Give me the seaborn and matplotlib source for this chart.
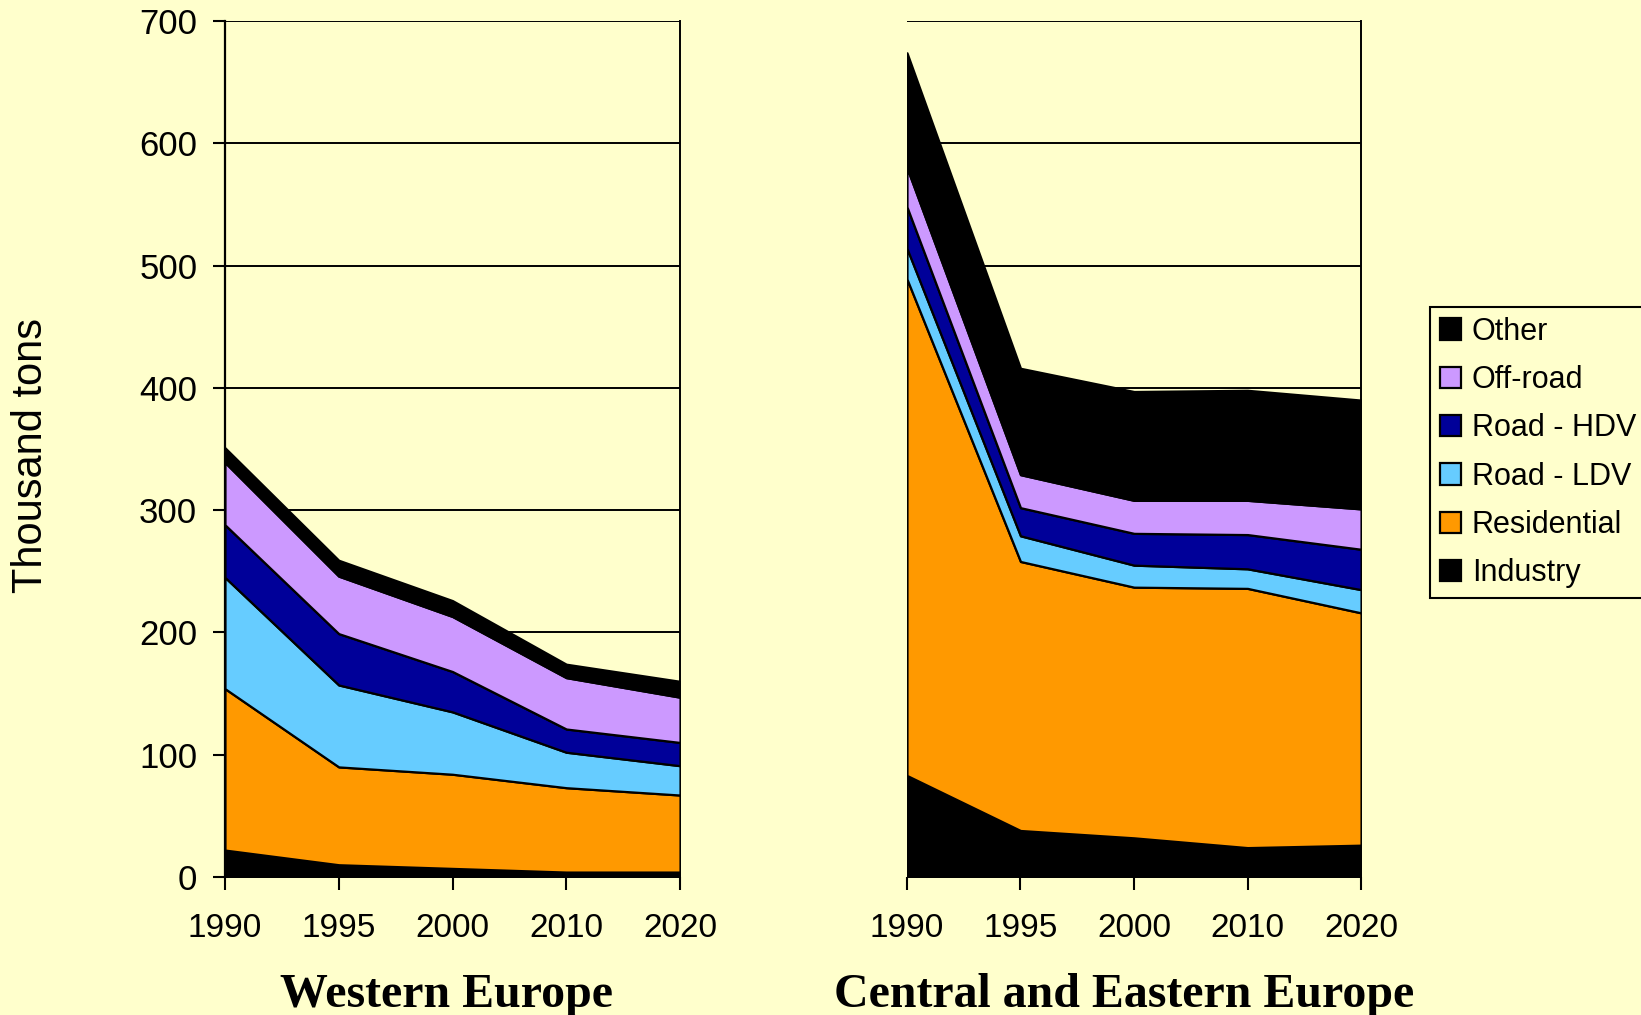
import matplotlib
matplotlib.use("Agg")
import matplotlib.pyplot as plt
import seaborn as sns
import numpy as np

# Emission sources, stacked bottom to top
years = ["1990", "1995", "2000", "2010", "2020"]
sources = ["Industry", "Residential", "Road - LDV", "Road - HDV", "Off-road", "Other"]
colors = ["#000000", "#FF9900", "#66CCFF", "#000099", "#CC99FF", "#000000"]

# Western Europe, thousand tons per source
we_industry = [22, 10, 7, 4, 4]
we_residential = [132, 80, 77, 69, 63]
we_road_ldv = [91, 67, 51, 29, 24]
we_road_hdv = [43, 42, 33, 19, 19]
we_offroad = [51, 47, 45, 42, 37]
we_other = [12, 13, 13, 11, 13]

# Central and Eastern Europe, thousand tons per source
cee_industry = [83, 38, 32, 24, 26]
cee_residential = [406, 220, 205, 212, 190]
cee_road_ldv = [25, 21, 18, 16, 19]
cee_road_hdv = [34, 23, 26, 28, 33]
cee_offroad = [32, 27, 27, 28, 33]
cee_other = [94, 87, 89, 90, 89]

y_ticks = [0, 100, 200, 300, 400, 500, 600, 700]

sns.set_theme(style="white")
plt.rcParams["font.family"] = ["Liberation Sans", "DejaVu Sans"]
plt.rcParams["text.color"] = "black"
plt.rcParams["xtick.color"] = "black"
plt.rcParams["ytick.color"] = "black"
plt.rcParams["axes.labelcolor"] = "black"

bg = "#FFFFCC"
fig = plt.figure(figsize=(16.41, 10.15), dpi=100, facecolor=bg)

ax_we = fig.add_axes([0.1371, 0.1360, 0.2773, 0.8433])
ax_cee = fig.add_axes([0.5527, 0.1360, 0.2767, 0.8433])

x = np.arange(len(years))
panels = [
    (ax_we, [we_industry, we_residential, we_road_ldv, we_road_hdv, we_offroad, we_other],
     "Western Europe", 0.2723),
    (ax_cee, [cee_industry, cee_residential, cee_road_ldv, cee_road_hdv, cee_offroad, cee_other],
     "Central and Eastern Europe", 0.6853),
]

for ax, series, title, title_x in panels:
    ax.set_facecolor(bg)
    ax.stackplot(x, *series, colors=colors, labels=sources,
                 edgecolor="black", linewidth=1.6, zorder=3)
    ax.set_xlim(0, len(years) - 1)
    ax.set_ylim(0, 700)
    ax.set_yticks(y_ticks)
    for v in y_ticks[1:]:
        ax.axhline(v, color="black", linewidth=1.4, zorder=1)
    ax.set_xticks(x)
    ax.set_xticklabels(years, fontsize=24)
    ax.tick_params(axis="x", direction="out", length=9, width=1.5, color="black",
                   bottom=True, pad=17)
    ax.grid(False)
    for side in ["top", "left", "bottom"]:
        ax.spines[side].set_visible(False)
    ax.spines["right"].set_visible(True)
    ax.spines["right"].set_color("black")
    ax.spines["right"].set_linewidth(1.4)
    ax.axhline(0, color="black", linewidth=1.6, zorder=4)
    fig.text(title_x, 0.02, title,
             ha="center", va="center", fontsize=34.5, fontweight="bold",
             family=["Liberation Serif", "DejaVu Serif"])

ax_we.spines["left"].set_visible(True)
ax_we.spines["left"].set_color("black")
ax_we.spines["left"].set_linewidth(1.6)
ax_we.tick_params(axis="y", direction="out", length=9, width=1.5, color="black",
                  left=True, labelsize=25, pad=11)
ax_cee.tick_params(axis="y", left=False, labelleft=False)

fig.text(0.019, 0.5517, "Thousand tons", rotation=90, ha="center", va="center",
         fontsize=30)

handles, labels = ax_we.get_legend_handles_labels()
leg = fig.legend(handles[::-1], labels[::-1], loc="upper left",
                 bbox_to_anchor=(0.8714, 0.6975), fontsize=22,
                 frameon=True, fancybox=False, edgecolor="black",
                 facecolor=bg, framealpha=1, handlelength=0.7, handleheight=0.7,
                 handletextpad=0.35, labelspacing=0.6, borderpad=0.32,
                 borderaxespad=0)
leg.get_frame().set_linewidth(1.5)

fig.savefig("out.png", dpi=100, facecolor=bg)
